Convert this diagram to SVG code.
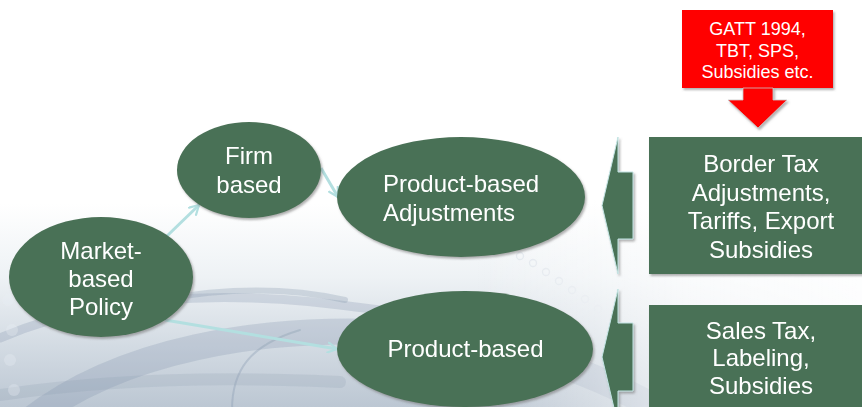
<svg xmlns="http://www.w3.org/2000/svg" width="862" height="407" viewBox="0 0 862 407">
  <defs>
    <linearGradient id="bg" x1="0" y1="0" x2="0" y2="1">
      <stop offset="0" stop-color="#ffffff"/>
      <stop offset="0.5" stop-color="#ffffff"/>
      <stop offset="0.68" stop-color="#eef2f5"/>
      <stop offset="0.85" stop-color="#d3dbe3"/>
      <stop offset="1" stop-color="#bcc7d3"/>
    </linearGradient>
    <linearGradient id="fade" x1="0" y1="0" x2="1" y2="0">
      <stop offset="0" stop-color="#ffffff" stop-opacity="0"/>
      <stop offset="0.55" stop-color="#ffffff" stop-opacity="0"/>
      <stop offset="0.8" stop-color="#ffffff" stop-opacity="0.7"/>
      <stop offset="1" stop-color="#ffffff" stop-opacity="0.9"/>
    </linearGradient>
    <filter id="shadow" x="-10%" y="-10%" width="125%" height="125%">
      <feDropShadow dx="1.5" dy="2" stdDeviation="0.8" flood-color="#6f6f6f" flood-opacity="0.55"/>
    </filter>
    <marker id="chev" viewBox="0 0 12 12" refX="10" refY="6" markerWidth="12" markerHeight="12" markerUnits="userSpaceOnUse" orient="auto">
      <path d="M1,1 L10,6 L1,11" fill="none" stroke="#b3dfe0" stroke-width="2.2" stroke-linecap="round" stroke-linejoin="round"/>
    </marker>
    <style>
      .node { fill: #4a7156; filter: url(#shadow); }
      .lbl { font-family: "Liberation Sans", Arial, sans-serif; font-size: 24px; fill: #ffffff; text-anchor: middle; }
      .small { font-size: 18px; }
      .link { fill: none; stroke: #b3dfe0; stroke-width: 3; marker-end: url(#chev); }
      .swoosh { fill: none; stroke: #7f91a8; stroke-linecap: round; }
    </style>
  </defs>

  <!-- backdrop -->
  <rect x="0" y="0" width="862" height="407" fill="url(#bg)"/>
  <g id="backdrop" opacity="0.9">
    <path class="swoosh" d="M30,420 C120,350 260,325 400,333 C500,340 580,365 660,410" stroke-width="26" opacity="0.28"/>
    <path class="swoosh" d="M0,338 C90,300 200,288 340,305 C420,314 500,330 560,345" stroke-width="9" opacity="0.28"/>
    <path class="swoosh" d="M0,395 C100,380 220,376 340,382" stroke-width="12" opacity="0.18"/>
    <path class="swoosh" d="M232,410 C232,370 250,345 300,330" stroke-width="2" opacity="0.35"/>
    <path class="swoosh" d="M160,300 C240,285 300,290 345,300" stroke-width="6" opacity="0.3"/>
    <g fill="none" stroke="#dfe5eb" stroke-width="1.3">
      <circle cx="520" cy="256" r="3.5"/>
      <circle cx="533" cy="263" r="3.5"/>
      <circle cx="546" cy="272" r="3.5"/>
      <circle cx="559" cy="281" r="3.5"/>
      <circle cx="572" cy="290" r="3.5"/>
      <circle cx="585" cy="299" r="3.5"/>
      <circle cx="598" cy="309" r="3.5"/>
      <circle cx="610" cy="319" r="3.5"/>
    </g>
    <g fill="#e9eef3" opacity="0.35">
      <circle cx="8" cy="300" r="6"/>
      <circle cx="12" cy="330" r="6"/>
      <circle cx="10" cy="360" r="6"/>
      <circle cx="14" cy="390" r="6"/>
    </g>
  </g>
  <rect x="0" y="200" width="862" height="207" fill="url(#fade)"/>

  <!-- connectors -->
  <g id="connectors">
    <line class="link" x1="167" y1="236" x2="199" y2="205"/>
    <line class="link" x1="321" y1="168" x2="338" y2="197"/>
    <line class="link" x1="165" y1="320" x2="337" y2="349"/>
  </g>

  <!-- rule sources feeding the border-measure box -->
  <g id="wto-rules">
    <g filter="url(#shadow)">
      <rect x="682" y="10" width="151" height="78" fill="#ff0000"/>
      <polygon points="743,88 773,88 773,100 787,100 758,128 728,100 743,100" fill="#ff0000" stroke="#c9c9c9" stroke-width="0.8"/>
    </g>
    <text class="lbl small" x="757.5" y="35">GATT 1994,</text>
    <text class="lbl small" x="757.5" y="56.5">TBT, SPS,</text>
    <text class="lbl small" x="757.5" y="78">Subsidies etc.</text>
  </g>

  <g id="market-based-policy">
    <ellipse class="node" cx="101" cy="277" rx="92" ry="60"/>
    <text class="lbl" x="101" y="259">Market-</text>
    <text class="lbl" x="101" y="287">based</text>
    <text class="lbl" x="101" y="314.5">Policy</text>
  </g>

  <g id="firm-based">
    <ellipse class="node" cx="249" cy="170" rx="72" ry="48"/>
    <text class="lbl" x="249" y="164">Firm</text>
    <text class="lbl" x="249" y="192.5">based</text>
  </g>

  <g id="product-based-adjustments">
    <ellipse class="node" cx="461" cy="197" rx="124" ry="60"/>
    <text class="lbl" x="383" y="192" style="text-anchor:start">Product-based</text>
    <text class="lbl" x="383" y="221" style="text-anchor:start">Adjustments</text>
  </g>

  <g id="product-based">
    <ellipse class="node" cx="465" cy="349" rx="128" ry="58"/>
    <text class="lbl" x="465.5" y="357">Product-based</text>
  </g>

  <g id="border-measures">
    <polygon class="node" points="602,205.5 618,137 618,172 633,172 633,239 618,239 618,274" stroke="#c3e4e4" stroke-width="1"/>
    <rect class="node" x="649" y="137" width="230" height="137"/>
    <text class="lbl" x="761" y="171.7">Border Tax</text>
    <text class="lbl" x="761" y="200.5">Adjustments,</text>
    <text class="lbl" x="761" y="229.3">Tariffs, Export</text>
    <text class="lbl" x="761" y="258.1">Subsidies</text>
  </g>

  <g id="internal-measures">
    <polygon class="node" points="602,357 618,289 618,323 633,323 633,391 618,391 618,425" stroke="#c3e4e4" stroke-width="1"/>
    <rect class="node" x="649" y="305" width="230" height="120"/>
    <text class="lbl" x="761" y="338.5">Sales Tax,</text>
    <text class="lbl" x="761" y="366">Labeling,</text>
    <text class="lbl" x="761" y="393.5">Subsidies</text>
  </g>
</svg>
